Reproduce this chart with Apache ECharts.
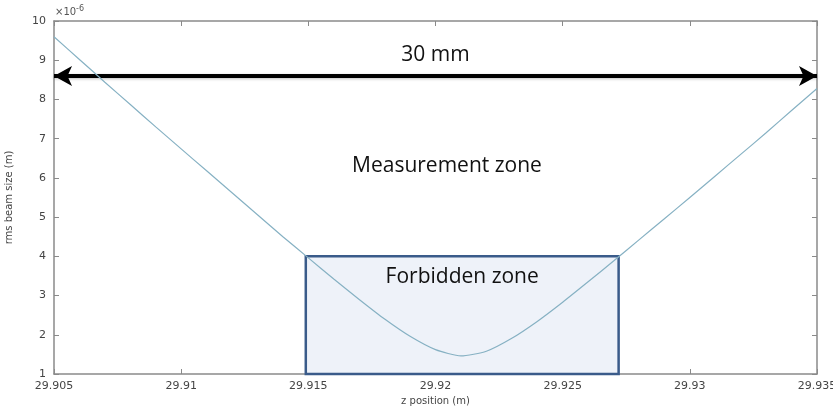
<!DOCTYPE html>
<html>
<head>
<meta charset="utf-8">
<style>
  html, body { margin: 0; padding: 0; background: #fff; }
  #myChart { width: 833px; height: 406px; }
</style>
<script src="https://cdn.jsdelivr.net/npm/echarts@6/dist/echarts.min.js"></script>
</head>
<body>
<div id="myChart"></div>
<script>
// z position (m) and rms beam size (x1e-6 m)
const zPos = [29.905, 29.906, 29.907, 29.908, 29.909, 29.910, 29.911, 29.912, 29.913, 29.914,
  29.915, 29.916, 29.917, 29.918, 29.919, 29.920, 29.921, 29.922, 29.923, 29.924,
  29.925, 29.926, 29.927, 29.928, 29.929, 29.930, 29.931, 29.932, 29.933, 29.934, 29.935]
const beamSize = [9.60, 9.02, 8.44, 7.87, 7.30, 6.74, 6.18, 5.62, 5.06, 4.50,
  3.96, 3.42, 2.90, 2.40, 1.96, 1.62, 1.46, 1.58, 1.91, 2.34,
  2.83, 3.35, 3.88, 4.42, 4.96, 5.50, 6.05, 6.60, 7.15, 7.72, 8.28]
const xTicks = ['29.905', '29.91', '29.915', '29.92', '29.925', '29.93', '29.935']

// annotation positions in data units
const forbiddenZ = [29.9149, 29.9272]
const forbiddenY = [1, 4]
const arrowY = 8.6
const measureLabel = [29.92045, 6.31]

let myChart = echarts.init(document.getElementById('myChart'))

const axisGray = '#8a8a8a'
const tickFont = { color: '#444', fontSize: 11, fontFamily: 'DejaVu Sans' }
const noteFont = { color: '#111', fontSize: 21, fontFamily: 'Open Sans' }

myChart.setOption({
  animation: false,
  grid: { left: 54, right: 16, top: 21, bottom: 32, outerBoundsMode: 'none' },
  graphic: [
    {
      type: 'text', left: 55, top: 5,
      style: {
        text: '{a|×10}{b|-6}',
        rich: {
          a: { fontSize: 10, fill: '#555', fontFamily: 'DejaVu Sans' },
          b: { fontSize: 8, fill: '#555', fontFamily: 'DejaVu Sans', verticalAlign: 'top', padding: [0, 0, 6, 0] }
        }
      }
    }
  ],
  xAxis: [
    {
      type: 'value', min: 29.905, max: 29.935, interval: 0.005,
      name: 'z position (m)', nameLocation: 'middle', nameGap: 20,
      nameTextStyle: { color: '#444', fontSize: 10, fontFamily: 'DejaVu Sans' },
      axisLine: { lineStyle: { color: axisGray, width: 1.5 } },
      axisTick: { inside: true, length: 5, lineStyle: { color: axisGray } },
      axisLabel: Object.assign({ margin: 7, formatter: v => {
        let s = v.toFixed(3).replace(/0+$/, '')
        return xTicks.includes(s) ? s : ''
      } }, tickFont),
      splitLine: { show: false }
    },
    {
      type: 'value', position: 'top', min: 29.905, max: 29.935, interval: 0.005,
      axisLine: { show: true, lineStyle: { color: axisGray, width: 1.5 } },
      axisTick: { inside: true, length: 5, lineStyle: { color: axisGray } },
      axisLabel: { show: false },
      splitLine: { show: false }
    }
  ],
  yAxis: [
    {
      type: 'value', min: 1, max: 10, interval: 1,
      name: 'rms beam size (m)', nameLocation: 'middle', nameGap: 40,
      nameTextStyle: { color: '#444', fontSize: 10, fontFamily: 'DejaVu Sans' },
      axisLine: { show: true, lineStyle: { color: axisGray, width: 1.5 } },
      axisTick: { show: true, inside: true, length: 5, lineStyle: { color: axisGray } },
      axisLabel: Object.assign({ margin: 8 }, tickFont),
      splitLine: { show: false }
    },
    {
      type: 'value', position: 'right', min: 1, max: 10, interval: 1,
      axisLine: { show: true, lineStyle: { color: axisGray, width: 1.5 } },
      axisTick: { show: true, inside: true, length: 5, lineStyle: { color: axisGray } },
      axisLabel: { show: false },
      splitLine: { show: false }
    }
  ],
  series: [
    {
      name: 'beam',
      type: 'line',
      data: zPos.map((z, i) => [z, beamSize[i]]),
      smooth: 0.2,
      symbol: 'none',
      z: 5,
      lineStyle: { color: '#86b1c3', width: 1.2 },
      markArea: {
        silent: true,
        z: 1,
        itemStyle: { color: '#eef2f9', borderColor: '#3a5b8a', borderWidth: 2.5 },
        label: Object.assign({ show: true, position: 'insideTop', distance: 11 }, noteFont),
        data: [[
          { name: 'Forbidden zone', coord: [forbiddenZ[0], forbiddenY[1]] },
          { coord: [forbiddenZ[1], forbiddenY[0]] }
        ]]
      },
      markLine: {
        silent: true,
        symbol: ['arrow', 'arrow'],
        symbolSize: [15, 18],
        lineStyle: { color: '#000', width: 4, type: 'solid',
          shadowColor: 'rgba(0,0,0,0.25)', shadowBlur: 3, shadowOffsetY: 1 },
        label: Object.assign({
          show: true, position: 'insideMiddleTop', distance: 10, formatter: '30 mm'
        }, noteFont),
        data: [[
          { coord: [zPos[0], arrowY] },
          { coord: [zPos[zPos.length - 1], arrowY] }
        ]]
      },
      markPoint: {
        silent: true,
        symbol: 'circle', symbolSize: 0,
        label: Object.assign({
          show: true, position: 'inside', formatter: 'Measurement zone'
        }, noteFont),
        data: [{ coord: measureLabel }]
      }
    }
  ]
})
</script>
</body>
</html>
